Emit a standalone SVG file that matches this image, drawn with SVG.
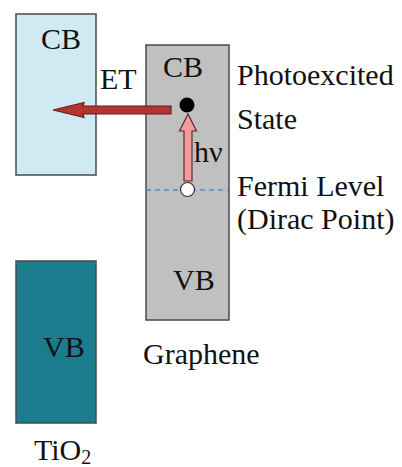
<svg xmlns="http://www.w3.org/2000/svg" width="402" height="467" viewBox="0 0 402 467">
<style>
.t{font-family:'Liberation Serif','DejaVu Serif',serif;font-size:30px;fill:#111}
.band{stroke:#4a4a4a;stroke-width:1.5}
</style>
<rect width="402" height="467" fill="#fff"/>
<g id="tio2-cb"><rect class="band" x="16" y="14" width="80" height="161" fill="#cfeaf2"/><text class="t" x="41" y="49">CB</text></g>
<g id="tio2-vb"><rect class="band" x="16" y="261" width="80" height="162" fill="#1b7c8e" stroke="#24515a"/><text class="t" x="43" y="357">VB</text></g>
<g id="tio2-label"><text class="t" x="34" y="460">TiO<tspan font-size="20" dy="4">2</tspan></text></g>
<g id="graphene"><rect class="band" x="146" y="45" width="83" height="275" fill="#c0c0c0"/><text class="t" x="163" y="77">CB</text><text class="t" x="173" y="290">VB</text></g>
<g id="graphene-label"><text class="t" x="143" y="364">Graphene</text></g>
<g id="fermi"><line x1="146" y1="190" x2="229" y2="190" stroke="#4b8fcf" stroke-width="1.5" stroke-dasharray="5,4"/></g>
<g id="labels">
<text class="t" x="100" y="89">ET</text>
<text class="t" x="237" y="85">Photoexcited</text>
<text class="t" x="237" y="129">State</text>
<text class="t" x="194" y="162">hν</text>
<text class="t" x="237" y="196">Fermi Level</text>
<text class="t" x="237" y="229">(Dirac Point)</text>
</g>
<g id="connectors">
<path d="M171,106 L83,106 L84,102.5 L53,110 L84,117.5 L83,114 L171,114 Z" fill="#b23531" stroke="#6b1b18" stroke-width="1.2"/>
<path d="M184,181 L184,131 L179.5,131 L188,114 L196.5,131 L192,131 L192,181 Z" fill="#f29a9c" stroke="#5a2a2a" stroke-width="1.2"/>
</g>
<g id="states">
<circle cx="187" cy="105" r="7.5" fill="#000"/>
<circle cx="187.5" cy="189.5" r="7" fill="#fff" stroke="#333" stroke-width="1.2"/>
</g>
</svg>
